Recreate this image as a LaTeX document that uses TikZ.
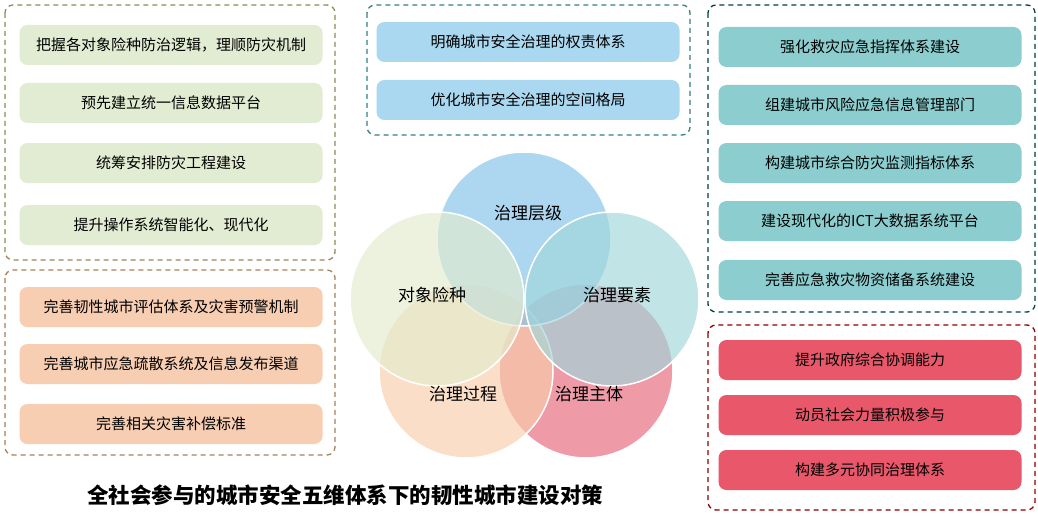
\documentclass[tikz,border=0pt]{standalone}
\usepackage{fontspec}
\setmainfont{Noto Sans CJK SC}
\definecolor{cG}{RGB}{226,236,211}
\definecolor{cO}{RGB}{248,206,178}
\definecolor{cB}{RGB}{170,216,240}
\definecolor{cT}{RGB}{140,206,208}
\definecolor{cR}{RGB}{232,88,106}
\definecolor{kR}{RGB}{230,100,120}
\definecolor{kO}{RGB}{248,205,170}
\definecolor{kB}{RGB}{130,195,235}
\definecolor{kG}{RGB}{228,236,205}
\definecolor{kT}{RGB}{160,215,218}
\begin{document}
\begin{tikzpicture}[x=1pt,y=-1pt,
  grp/.style={draw=#1,line width=1.3pt,rounded corners=8pt,dash pattern=on 5pt off 4pt},
  bx/.style={fill=#1,rounded corners=8pt,minimum width=303pt,minimum height=40pt,font=\fontsize{15}{17}\selectfont,inner sep=0pt},
  circ/.style={circle,minimum size=174pt,fill=#1,fill opacity=0.65,draw=white,line width=1.5pt,text opacity=1},
  clab/.style={font=\fontsize{17}{19}\selectfont}]
\useasboundingbox (0,0) rectangle (1038,516);
\fill[white] (0,0) rectangle (1038,516);
% groups
\draw[grp=gray!60!olive] (5,5) rectangle (335,260);
\draw[grp=brown!60!gray] (5,270) rectangle (335,455);
\draw[grp=teal!60!gray] (367,5) rectangle (690,135);
\draw[grp=teal!50!black] (708,5) rectangle (1035,312);
\draw[grp=red!55!black] (708,325) rectangle (1035,510);
% left green
\node[bx=cG] (g1) at (171,45) {把握各对象险种防治逻辑，理顺防灾机制};
\node[bx=cG] (g2) at (171,103) {预先建立统一信息数据平台};
\node[bx=cG] (g3) at (171,163) {统筹安排防灾工程建设};
\node[bx=cG] (g4) at (171,225) {提升操作系统智能化、现代化};
% left orange
\node[bx=cO] (o1) at (171,307) {完善韧性城市评估体系及灾害预警机制};
\node[bx=cO] (o2) at (171,364) {完善城市应急疏散系统及信息发布渠道};
\node[bx=cO] (o3) at (171,424) {完善相关灾害补偿标准};
% middle blue
\node[bx=cB] (b1) at (528,42) {明确城市安全治理的权责体系};
\node[bx=cB] (b2) at (528,100) {优化城市安全治理的空间格局};
% right teal
\node[bx=cT] (t1) at (870,47) {强化救灾应急指挥体系建设};
\node[bx=cT] (t2) at (870,105) {组建城市风险应急信息管理部门};
\node[bx=cT] (t3) at (870,163) {构建城市综合防灾监测指标体系};
\node[bx=cT] (t4) at (870,221) {建设现代化的ICT大数据系统平台};
\node[bx=cT] (t5) at (870,280) {完善应急救灾物资储备系统建设};
% right red
\node[bx=cR] (r1) at (870,360) {提升政府综合协调能力};
\node[bx=cR] (r2) at (870,415) {动员社会力量积极参与};
\node[bx=cR] (r3) at (870,470) {构建多元协同治理体系};
% circles
\node[circ=kR] (cr) at (586,371) {};
\node[circ=kO] (co) at (466,371) {};
\node[circ=kB] (cb) at (524,239) {};
\node[circ=kG] (cg) at (437,299) {};
\node[circ=kT] (ct) at (612,299) {};
\node[clab] (lb) at (528,213) {治理层级};
\node[clab] (lg) at (432,295) {对象险种};
\node[clab] (lt) at (617,295) {治理要素};
\node[clab] (lo) at (463,394) {治理过程};
\node[clab] (lr) at (589,394) {治理主体};
% title
\node[font=\fontsize{21.5}{23}\selectfont\bfseries] (title) at (345,495) {全社会参与的城市安全五维体系下的韧性城市建设对策};
\end{tikzpicture}
\end{document}
